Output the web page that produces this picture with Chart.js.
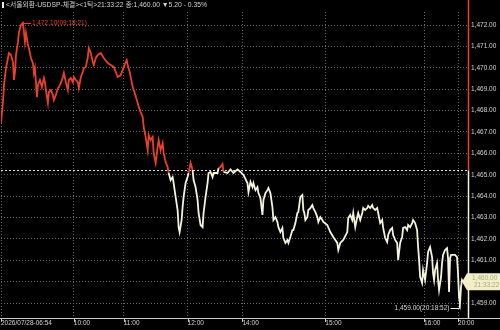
<!DOCTYPE html>
<html><head><meta charset="utf-8">
<script src="https://cdn.jsdelivr.net/npm/chart.js@4.4.1/dist/chart.umd.min.js"></script>
<style>html,body{margin:0;padding:0;background:#000;overflow:hidden}canvas{display:block}</style>
</head><body><canvas id="c" width="500" height="330"></canvas>
<script>
// ---- data (tick sequence number, traded price) ----
const tickNo = [0,2,3,5,7,8,10,12,13,14,15,17,18,20,22,23,24,25,27,28,30,32,33,34,35,36,37,39,41,43,44,45,47,48,50,52,53,55,57,58,60,62,63,65,67,68,70,72,73,75,77,78,80,82,83,85,87,88,90,92,93,95,97,100,103,107,
110,113,117,120,123,126,127,129,132,134,137,139,142,143,145,147,148,150,152,153,155,157,158,160,162,163,165,167,168,170,172,173,175,177,178,179,181,182,183,185,187,188,190,192,193,195,197,198,200,202,203,205,207,208,210,212,213,217,218,220,222,223,227,230,233,237,240,
243,247,248,250,252,253,255,257,258,260,262,263,265,267,268,270,272,273,275,277,278,280,282,283,285,287,288,290,292,293,295,297,298,300,302,303,304,305,307,308,310,312,313,315,317,318,320,322,323,327,330,333,337,338,340,
343,347,348,350,352,353,355,357,358,360,362,363,365,367,368,370,372,373,375,377,378,380,382,383,385,387,388,390,392,393,395,397,398,400,402,403,405,407,408,410,412,413,415,417,418,419,420,422,423,425,427,428,430,432,433,434,435,437,438,439,441,442,443,445,447,448,449,450,451,453,455,457,458,459,460,461,462,463];
const prices = [1467.42,1468.40,1469.19,1469.99,1470.46,1470.69,1470.60,1470.27,1469.43,1469.80,1470.60,1471.21,1471.67,1472.00,1472.10,1471.67,1471.21,1471.63,1471.06,1470.92,1470.46,1470.22,1469.76,1469.99,1469.33,1468.63,1469.19,1469.43,1469.10,1469.52,1469.33,1468.96,1468.35,1468.87,1468.96,1468.73,1468.49,1468.73,1469.05,1469.10,1469.29,1469.57,1469.76,1469.33,1468.96,1469.43,1469.52,1469.33,1469.57,1469.43,1469.33,1469.05,1469.57,1469.80,1469.99,1470.04,1470.50,1470.92,1470.69,1470.27,1470.13,1470.46,1470.60,1470.69,1470.46,1470.22,
1470.13,1470.04,1469.57,1469.66,1470.04,1470.36,1470.13,1469.80,1469.10,1468.82,1468.35,1468.03,1467.70,1467.23,1466.76,1466.15,1466.86,1466.62,1466.76,1466.01,1465.55,1466.30,1466.62,1466.15,1466.48,1466.01,1465.59,1465.36,1465.08,1464.75,1464.89,1464.61,1463.96,1463.35,1462.55,1462.32,1462.88,1463.49,1463.96,1464.61,1464.89,1465.08,1465.55,1465.22,1464.75,1464.42,1463.82,1463.21,1462.65,1462.55,1463.21,1463.96,1464.61,1465.08,1465.13,1464.89,1465.08,1465.08,1465.31,1465.36,1465.50,1465.13,1465.08,1465.25,1465.08,1465.25,1465.13,
1464.99,1464.61,1464.19,1464.66,1464.42,1464.61,1464.28,1464.42,1464.14,1463.91,1463.12,1463.82,1464.14,1464.28,1464.38,1464.14,1463.49,1462.88,1463.02,1462.79,1462.55,1462.32,1462.51,1462.04,1461.81,1461.95,1461.81,1462.09,1462.41,1462.41,1462.74,1463.21,1463.26,1463.96,1464.05,1463.35,1463.21,1462.88,1463.02,1463.35,1463.44,1463.58,1463.44,1463.26,1463.02,1462.79,1463.02,1462.88,1462.79,1462.65,1462.32,1462.09,1461.81,1461.48,1461.81,
1461.95,1462.32,1462.97,1463.12,1462.88,1463.21,1462.55,1463.02,1463.21,1462.88,1463.21,1463.44,1463.35,1463.44,1463.54,1463.44,1463.58,1463.44,1463.35,1463.44,1463.21,1462.74,1462.88,1462.51,1462.04,1461.85,1462.18,1462.41,1462.51,1462.18,1461.95,1461.81,1461.01,1461.81,1462.09,1462.51,1462.55,1462.41,1462.65,1462.55,1462.74,1462.88,1462.74,1462.41,1461.62,1461.01,1460.22,1459.94,1460.54,1460.08,1460.87,1461.39,1461.62,1461.15,1460.40,1460.08,1460.54,1460.87,1460.08,1459.61,1460.22,1460.87,1461.25,1461.48,1461.57,1461.10,1459.52,1461.10,1461.25,1461.25,1461.25,1461.15,1460.40,1459.28,1459.00,1459.75,1460.08,1460.00];
const refPrice = 1465.20;          // previous close
const lastPrice = 1460.00;
const lastTime = '21:33:22';
const xTickPos = [0,73,123,187,242,325,424,458];
const xTickLabels = ['2026/07/28-06:54','10:00','11:00','12:00','14:00','15:00','16:00','20:00'];
const yTickValues = [1459,1460,1461,1462,1463,1464,1465,1466,1467,1468,1469,1470,1471,1472];
const titleText = '<서울외환-USDSP-체결><1틱>21:33:22 종:1,460.00 ▼5.20 - 0.35%';
const maxMark = {tick:22, price:1472.10, time:'09:18:21'};
const minMark = {tick:460, price:1459.00, time:'20:18:52'};

const RED = '#e8402c', WHITE = '#f4f4dc', GRID = '#6a6a6a', TXT = '#d4d4d4';
const FONT = "'Liberation Sans', Arial, 'Noto Sans CJK KR', sans-serif";
const fmt = v => v.toLocaleString('en-US',{minimumFractionDigits:2,maximumFractionDigits:2});

const deco = {
  id:'deco',
  beforeDraw(chart){
    const c = chart.ctx; c.save(); c.fillStyle='#000'; c.fillRect(0,0,chart.width,chart.height); c.restore();
  },
  beforeDatasetsDraw(chart){
    const {ctx, chartArea:a, scales:{y}} = chart;
    const ry = Math.round(y.getPixelForValue(refPrice))+0.5;
    ctx.save(); ctx.strokeStyle='#dcdcdc'; ctx.lineWidth=1; ctx.setLineDash([2,2]);
    ctx.beginPath(); ctx.moveTo(a.left, ry); ctx.lineTo(a.right, ry); ctx.stroke(); ctx.restore();
  },
  afterDraw(chart){
    const {ctx, chartArea:a, scales:{x,y}} = chart;
    ctx.save();
    // bottom axis line and tick marks
    ctx.strokeStyle='#c8c8c8'; ctx.lineWidth=1;
    ctx.beginPath(); ctx.moveTo(0, a.bottom+0.5); ctx.lineTo(chart.width, a.bottom+0.5); ctx.stroke();
    ctx.beginPath();
    xTickPos.forEach(t=>{ const px=Math.round(x.getPixelForValue(t))+0.5; ctx.moveTo(px,a.bottom); ctx.lineTo(px,a.bottom+4); });
    ctx.stroke();
    // right border coloured by previous close
    const ry = y.getPixelForValue(refPrice);
    const bx = a.right+0.5;
    ctx.lineWidth=1.5;
    ctx.strokeStyle=RED; ctx.beginPath(); ctx.moveTo(bx,0); ctx.lineTo(bx,ry); ctx.stroke();
    ctx.strokeStyle=WHITE; ctx.beginPath(); ctx.moveTo(bx,ry); ctx.lineTo(bx,a.bottom); ctx.stroke();
    // title
    ctx.fillStyle='#e8e8e8'; ctx.fillRect(2,2,2,6);
    ctx.font = '7px '+FONT; ctx.textBaseline='middle'; ctx.fillStyle=TXT;
    const tw = ctx.measureText(titleText).width;
    ctx.save(); ctx.translate(6,5.5); ctx.scale(201/tw,1); ctx.fillText(titleText,0,0); ctx.restore();
    // max annotation
    ctx.font = '6.5px '+FONT;
    let px = x.getPixelForValue(maxMark.tick), py = Math.round(y.getPixelForValue(maxMark.price))+0.5;
    ctx.strokeStyle=RED; ctx.lineWidth=1;
    ctx.beginPath(); ctx.moveTo(px+1,py); ctx.lineTo(px+8,py); ctx.stroke();
    ctx.fillStyle=RED; ctx.textAlign='left'; ctx.fillText(fmt(maxMark.price)+'('+maxMark.time+')', px+9, py);
    // min annotation
    px = Math.round(x.getPixelForValue(minMark.tick))-0.5; py = y.getPixelForValue(minMark.price);
    const ly = Math.round(py+5)+0.5;
    ctx.strokeStyle=WHITE;
    ctx.beginPath(); ctx.moveTo(px-9,ly); ctx.lineTo(px,ly); ctx.lineTo(px,py); ctx.stroke();
    ctx.fillStyle=TXT; ctx.textAlign='right'; ctx.fillText(fmt(minMark.price)+'('+minMark.time+')', px-10, ly);
    // last price box
    const cy = y.getPixelForValue(lastPrice);
    ctx.fillStyle='#f2efc6';
    ctx.beginPath(); ctx.moveTo(a.right-6,cy); ctx.lineTo(a.right-1,cy-8.5); ctx.lineTo(chart.width,cy-8.5);
    ctx.lineTo(chart.width,cy+8.5); ctx.lineTo(a.right-1,cy+8.5); ctx.closePath(); ctx.fill();
    ctx.fillStyle='#aaa784'; ctx.textAlign='left';
    ctx.fillText(fmt(lastPrice), a.right+4, cy-3.5);
    ctx.fillText(lastTime, a.right+6, cy+4);
    ctx.restore();
  }
};

Chart.defaults.font.family = FONT;
new Chart(document.getElementById('c'), {
  type:'line',
  data:{ datasets:[{
    data: tickNo.map((t,i)=>({x:t, y:prices[i]})),
    borderWidth:1.8, pointRadius:0, tension:0, fill:false,
    borderColor: WHITE,
    segment:{ borderColor: c => ((c.p0.parsed.y + c.p1.parsed.y)/2 > refPrice ? RED : WHITE) }
  }]},
  options:{
    responsive:false, animation:false, devicePixelRatio:1,
    layout:{ padding:{ top:12, left:0, right:0, bottom:0 } },
    plugins:{ legend:{display:false}, tooltip:{enabled:false} },
    scales:{
      x:{ type:'linear', position:'bottom', min:0, max:468,
        afterFit: s => { s.height = 12; },
        afterBuildTicks: s => { s.ticks = xTickPos.map(v=>({value:v})); },
        ticks:{ autoSkip:false, maxRotation:0, align:'start', padding:1, color:TXT, font:{size:6.5},
          callback: v => xTickLabels[xTickPos.indexOf(v)] ?? '' },
        grid:{ color:GRID, drawTicks:false, lineWidth:1 },
        border:{ display:false, dash:[1,2] }
      },
      y:{ type:'linear', position:'right', min:1458.30, max:1472.61,
        afterFit: s => { s.width = 32; },
        afterBuildTicks: s => { s.ticks = yTickValues.map(v=>({value:v})); },
        ticks:{ padding:3, color:TXT, font:{size:6.5}, callback: v => fmt(v) },
        grid:{ color:GRID, drawTicks:false, lineWidth:1 },
        border:{ display:false, dash:[1,2] }
      }
    }
  },
  plugins:[deco]
});
</script></body></html>
